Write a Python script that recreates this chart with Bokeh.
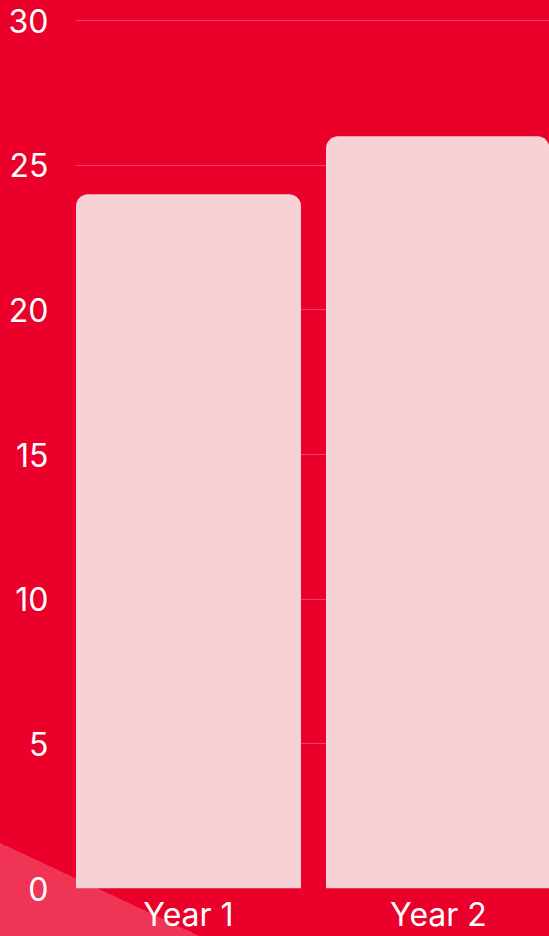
from bokeh.plotting import figure
from bokeh.models import Range1d, FixedTicker, ColumnDataSource
from bokeh.embed import file_html
from bokeh.resources import INLINE

categories = ["Year 1", "Year 2"]
values = [24, 26]
y_ticks = [0, 5, 10, 15, 20, 25, 30]

BG = "#EA002A"
BAR = "#F6D2D7"
DECO = "#EF3456"
FONT = "Inter"

positions = [i + 0.5 for i in range(len(categories))]
src = ColumnDataSource(dict(x=positions, top=values, name=categories))

p = figure(width=549, height=936, output_backend="svg", toolbar_location=None,
           x_range=Range1d(0.048, 1.944), y_range=Range1d(0, 30.04),
           min_border_left=75, min_border_right=0, min_border_top=19, min_border_bottom=48)
# transparent canvas; the page-style background (with its light diagonal corner band) is CSS
p.background_fill_alpha = 0
p.border_fill_alpha = 0
p.outline_line_color = None
p.styles = {"background": f"linear-gradient(205deg, {BG} 996px, {DECO} 996px)"}

p.vbar(x="x", top="top", bottom=0, width=0.9, source=src, fill_color=BAR, line_color=None,
       border_radius=(12, 12, 0, 0))

p.xaxis.ticker = FixedTicker(ticks=positions)
p.xaxis.major_label_overrides = {pos: c for pos, c in zip(positions, categories)}
p.yaxis.ticker = FixedTicker(ticks=y_ticks)

for ax in (p.xaxis, p.yaxis):
    ax.axis_line_color = None
    ax.major_tick_line_color = None
    ax.minor_tick_line_color = None
    ax.major_tick_in = 0
    ax.major_tick_out = 0
    ax.major_label_text_color = "white"
    ax.major_label_text_font = FONT
    ax.major_label_text_font_size = "32px"
p.yaxis.major_label_standoff = 27
p.xaxis.major_label_standoff = 6

p.xgrid.grid_line_color = None
p.ygrid.grid_line_color = "white"
p.ygrid.grid_line_alpha = 0.25
p.ygrid.grid_line_width = 1

open("out.html", "w").write(file_html(p, INLINE))
